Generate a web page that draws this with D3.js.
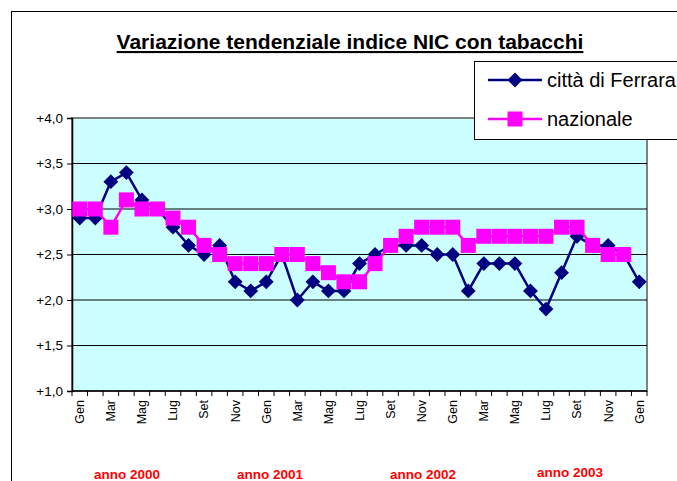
<!DOCTYPE html>
<html><head><meta charset="utf-8">
<script src="https://cdn.jsdelivr.net/npm/d3@7"></script>
<style>body{margin:0;background:#fff}svg{display:block;font-family:"Liberation Sans",Arial,sans-serif}</style>
</head><body><svg id="c" width="677" height="481"></svg>
<script>
const months = ["Gen","Feb","Mar","Apr","Mag","Giu","Lug","Ago","Set","Ott","Nov","Dic",
"Gen","Feb","Mar","Apr","Mag","Giu","Lug","Ago","Set","Ott","Nov","Dic",
"Gen","Feb","Mar","Apr","Mag","Giu","Lug","Ago","Set","Ott","Nov","Dic","Gen"];
const ferrara = [2.9,2.9,3.3,3.4,3.1,3.0,2.8,2.6,2.5,2.6,2.2,2.1,2.2,2.5,2.0,2.2,2.1,2.1,2.4,2.5,2.6,2.6,2.6,2.5,2.5,2.1,2.4,2.4,2.4,2.1,1.9,2.3,2.7,2.6,2.6,2.5,2.2];
const nazionale = [3.0,3.0,2.8,3.1,3.0,3.0,2.9,2.8,2.6,2.5,2.4,2.4,2.4,2.5,2.5,2.4,2.3,2.2,2.2,2.4,2.6,2.7,2.8,2.8,2.8,2.6,2.7,2.7,2.7,2.7,2.7,2.8,2.8,2.6,2.5,2.5];
const yTicks = [1.0,1.5,2.0,2.5,3.0,3.5,4.0];
const years = ["anno 2000","anno 2001","anno 2002","anno 2003"];
const yearPos = [127,270,423,570];
const seriesNames = ["città di Ferrara","nazionale"];

const svg = d3.select("#c");
const L=72,R=647,T=118,B=391;
const idx = d3.range(months.length);
const x = d3.scaleBand().domain(idx).range([L,R]);
const y = d3.scaleLinear().domain([1,4]).range([B,T]);
const cx = i => x(i)+x.bandwidth()/2;
const fmt = v => "+"+d3.format(".1f")(v).replace(".",",");

// outer frame
svg.append("rect").attr("x",11.5).attr("y",11.5).attr("width",700).attr("height",500)
  .attr("fill","none").attr("stroke","#000").attr("stroke-width",1);

// title
svg.append("text").attr("x",350).attr("y",49).attr("text-anchor","middle")
  .attr("font-size",21).attr("font-weight","bold").attr("text-decoration","underline")
  .text("Variazione tendenziale indice NIC con tabacchi");

// plot area
svg.append("rect").attr("x",L).attr("y",T).attr("width",R-L).attr("height",B-T)
  .attr("fill","#CCFFFF").attr("stroke","#808080").attr("stroke-width",2);

// gridlines
svg.append("g").selectAll("line").data(yTicks.filter(v=>v>1&&v<4)).join("line")
  .attr("x1",L).attr("x2",R).attr("y1",d=>y(d)).attr("y2",d=>y(d))
  .attr("stroke","#000").attr("stroke-width",1);

// y axis
const ya = svg.append("g").attr("transform",`translate(${L},0)`)
  .call(d3.axisLeft(y).tickValues(yTicks).tickFormat(fmt).tickSize(5).tickPadding(4));
ya.select(".domain").attr("stroke","#000").attr("stroke-width",1.5);
ya.selectAll("text").attr("font-size",13.5).attr("font-family","'Liberation Sans',Arial,sans-serif").attr("fill","#000");

// x axis
const xa = svg.append("g").attr("transform",`translate(0,${B})`);
xa.append("line").attr("x1",L).attr("x2",R).attr("stroke","#000").attr("stroke-width",1.5);
xa.selectAll("line.t").data(d3.range(months.length+1)).join("line").attr("class","t")
  .attr("x1",d=>L+d*x.bandwidth()).attr("x2",d=>L+d*x.bandwidth()).attr("y1",0).attr("y2",5)
  .attr("stroke","#000");
xa.selectAll("text").data(idx.filter(i=>i%2===0)).join("text")
  .attr("transform",d=>`translate(${cx(d)},9) rotate(-90)`)
  .attr("text-anchor","end").attr("dy","0.35em").attr("font-size",12.5)
  .text(d=>months[d]);

// series
const line = d3.line().x((d,i)=>cx(i)).y(d=>y(d));
svg.append("path").datum(ferrara).attr("d",line).attr("fill","none")
  .attr("stroke","#000080").attr("stroke-width",2.5);
const diamond = d3.symbol().type(d3.symbolSquare).size(110);
svg.append("g").selectAll("path").data(ferrara).join("path")
  .attr("d",diamond()).attr("fill","#000080")
  .attr("transform",(d,i)=>`translate(${cx(i)},${y(d)}) rotate(45)`);
svg.append("path").datum(nazionale).attr("d",line).attr("fill","none")
  .attr("stroke","#FF00FF").attr("stroke-width",2.5);
svg.append("g").selectAll("rect").data(nazionale).join("rect")
  .attr("x",(d,i)=>cx(i)-7.5).attr("y",d=>y(d)-7.5).attr("width",15).attr("height",15)
  .attr("fill","#FF00FF");

// legend
const lg = svg.append("g");
lg.append("rect").attr("x",474.5).attr("y",61.5).attr("width",260).attr("height",78)
  .attr("fill","#fff").attr("stroke","#000");
const rows=[80,119];
lg.append("line").attr("x1",488).attr("x2",542).attr("y1",rows[0]).attr("y2",rows[0]).attr("stroke","#000080").attr("stroke-width",2.5);
lg.append("path").attr("d",diamond()).attr("fill","#000080").attr("transform",`translate(515,${rows[0]}) rotate(45)`);
lg.append("line").attr("x1",488).attr("x2",542).attr("y1",rows[1]).attr("y2",rows[1]).attr("stroke","#FF00FF").attr("stroke-width",2.5);
lg.append("rect").attr("x",507.5).attr("y",rows[1]-7.5).attr("width",15).attr("height",15).attr("fill","#FF00FF");
lg.selectAll("text").data(seriesNames).join("text")
  .attr("x",547).attr("y",(d,i)=>rows[i]).attr("dy","0.35em").attr("font-size",20).text(d=>d);

// year labels
svg.append("g").selectAll("text").data(years).join("text")
  .attr("x",(d,i)=>yearPos[i]).attr("y",(d,i)=>i===3?477:479)
  .attr("text-anchor","middle").attr("font-size",13.5).attr("font-weight","bold").attr("fill","#FF0000")
  .text(d=>d);
</script></body></html>
